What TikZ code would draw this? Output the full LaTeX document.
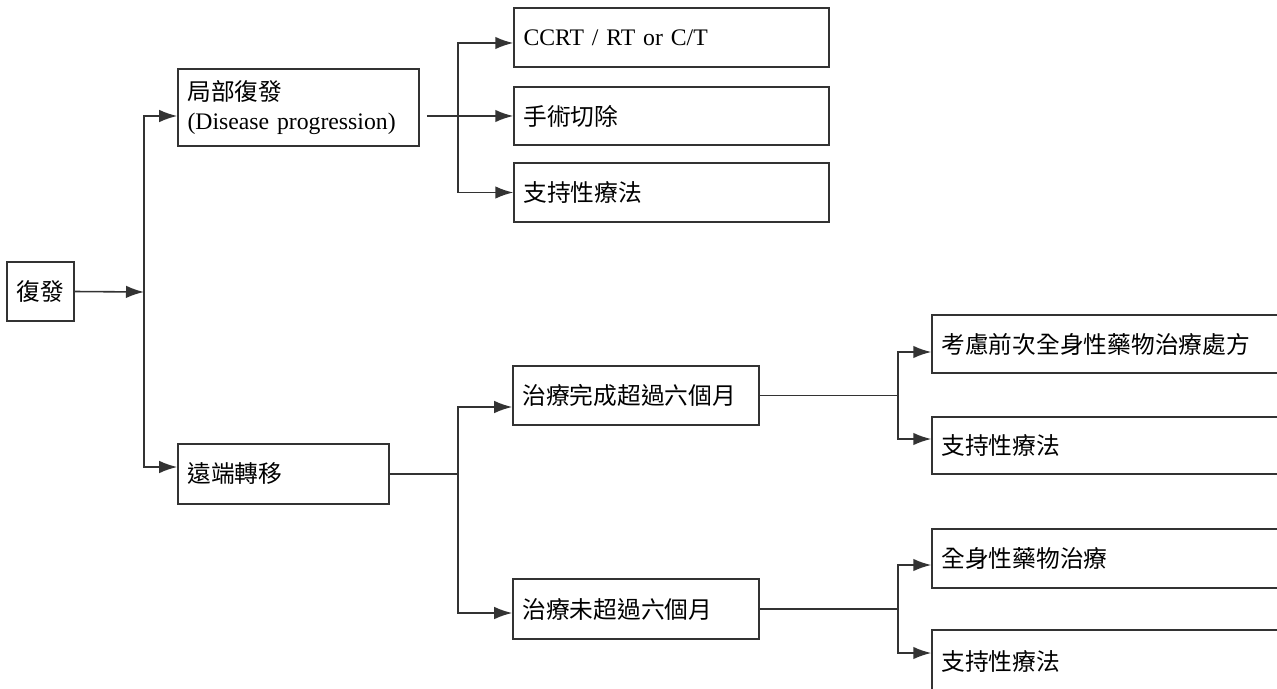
\documentclass[tikz,border=0pt]{standalone}
\usepackage{fontspec}
\setmainfont{Liberation Serif}
\newfontfamily\cjk{Noto Sans CJK TC}
\usepackage{tikz}
\usetikzlibrary{arrows.meta}
\tikzstyle{box}=[draw=black!80, line width=0.9pt, inner xsep=0.19cm, inner ysep=0pt,
  align=left, minimum height=1.18cm]
\tikzstyle{wide} = [box, text width=5.92cm]
\tikzstyle{mid} = [box, text width=4.54cm]
\tikzstyle{far} = [box, text width=7.62cm]
\tikzstyle{line} = [draw, line width=0.9pt, color=black!80]
\tikzstyle{arrowline} = [line, -{Latex[length=0.36cm,width=0.25cm]}]

\begin{document}
\begin{tikzpicture}[x=0.02cm, y=-0.02cm, font=\fontsize{13.5}{17}\selectfont]
  \clip (0,0) rectangle (1277,689);

  % relapse block
  \node[box, align=center, minimum width=1.3cm] (RELAPSE) at (40.5,291.5) {\cjk 復發};
  \node[box, text width=4.44cm, minimum height=1.54cm] (LOCAL) at (298.5,107.5)
    {{\cjk 局部復發}\\(Disease progression)};
  \node[box, text width=3.84cm, minimum height=1.2cm] (DISTANT) at (283.5,474) {\cjk 遠端轉移};

  % local relapse treatments
  \node[wide] (CCRT) at (671.5,37.5) {CCRT / RT or C/T};
  \node[wide, minimum height=1.16cm] (SURGERY) at (671.5,116) {\cjk 手術切除};
  \node[wide] (SUPPA) at (671.5,192.5) {\cjk 支持性療法};

  % distant metastasis area
  \node[mid] (OVERSIX) at (636,395.5) {\cjk 治療完成超過六個月};
  \node[mid, minimum height=1.2cm] (UNDERSIX) at (636,609) {\cjk 治療未超過六個月};

  \node[far, minimum height=1.16cm] (PREVIOUS) at (1132,344) {\cjk 考慮前次全身性藥物治療處方};
  \node[far, minimum height=1.14cm] (SUPPB) at (1132,445.5) {\cjk 支持性療法};
  \node[far] (SYSTEMIC) at (1132,558.5) {\cjk 全身性藥物治療};
  \node[far, minimum height=1.24cm] (SUPPC) at (1132,661) {\cjk 支持性療法};

  % fork points
  \coordinate (FORKA) at (144,292);
  \coordinate (FORKB) at (458,116);
  \coordinate (FORKC) at (458,474);
  \coordinate (FORKD) at (898,395.5);
  \coordinate (FORKE) at (898,609);

  % Draw arrows between elements
  \path [arrowline] (RELAPSE.east) -- (FORKA);
  \path [arrowline] (FORKA) |- ([yshift=-0.17cm]LOCAL.west);
  \path [arrowline] (FORKA) |- ([yshift=0.14cm]DISTANT.west);

  \path [arrowline] ([xshift=0.14cm]LOCAL.east |- SURGERY.west) -- (SURGERY.west);
  \path [arrowline] (FORKB) |- ([yshift=-0.11cm]CCRT.west);
  \path [arrowline] (FORKB) |- (SUPPA.west);

  \path [line] (DISTANT.east) -- (FORKC);
  \path [arrowline] (FORKC) |- ([yshift=-0.23cm]OVERSIX.west);
  \path [arrowline] (FORKC) |- ([yshift=-0.08cm]UNDERSIX.west);

  \path [line] (OVERSIX.east) -- (FORKD);
  \path [arrowline] (FORKD) |- ([yshift=-0.16cm]PREVIOUS.west);
  \path [arrowline] (FORKD) |- ([yshift=0.13cm]SUPPB.west);

  \path [line] (UNDERSIX.east) -- (FORKE);
  \path [arrowline] (FORKE) |- ([yshift=-0.13cm]SYSTEMIC.west);
  \path [arrowline] (FORKE) |- ([yshift=0.16cm]SUPPC.west);

\end{tikzpicture}
\end{document}
